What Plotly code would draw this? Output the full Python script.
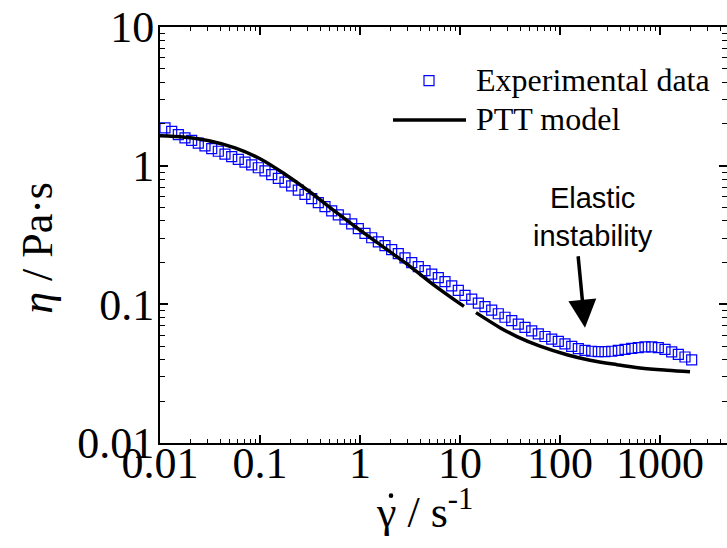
import plotly.graph_objects as go

# ---------------- data ----------------
shear_rate_exp = [0.01122, 0.01309, 0.01525, 0.01778, 0.02073, 0.02415, 0.02818, 0.03289, 0.03828, 0.04467,
                  0.05212, 0.06067, 0.07079, 0.08260, 0.09616, 0.1122, 0.1309, 0.1525, 0.1778, 0.2073,
                  0.2415, 0.2818, 0.3289, 0.3828, 0.4467, 0.5212, 0.6067, 0.7079, 0.8260, 0.9616,
                  1.122, 1.309, 1.525, 1.778, 2.073, 2.415, 2.818, 3.289, 3.828, 4.467,
                  5.212, 6.067, 7.079, 8.260, 9.616, 11.22, 13.09, 15.25, 17.78, 20.73,
                  24.15, 28.18, 32.89, 38.28, 44.67, 52.12, 60.67, 70.79, 82.60, 96.16,
                  112.2, 130.9, 152.5, 177.8, 207.3, 241.5, 281.8, 328.9, 382.8, 446.7,
                  521.2, 606.7, 707.9, 826.0, 961.6, 1122, 1309, 1525, 1778, 2073]
viscosity_exp = [1.871, 1.770, 1.675, 1.589, 1.521, 1.455, 1.387, 1.327, 1.271, 1.213,
                 1.161, 1.109, 1.059, 1.012, 0.966, 0.916, 0.861, 0.811, 0.762, 0.715,
                 0.667, 0.621, 0.578, 0.541, 0.506, 0.472, 0.442, 0.411, 0.380, 0.352,
                 0.325, 0.302, 0.282, 0.265, 0.248, 0.232, 0.216, 0.200, 0.187, 0.175,
                 0.165, 0.156, 0.146, 0.136, 0.126, 0.116, 0.109, 0.102, 0.0964, 0.0908,
                 0.0855, 0.0807, 0.0762, 0.0721, 0.0681, 0.0643, 0.0612, 0.0586, 0.0562, 0.0540,
                 0.0518, 0.0497, 0.0479, 0.0466, 0.0459, 0.0456, 0.0456, 0.0459, 0.0466, 0.0473,
                 0.0481, 0.0488, 0.0493, 0.0494, 0.0488, 0.0473, 0.0454, 0.0435, 0.0417, 0.0398]

# PTT model (two branches with a small gap around 12 s^-1)
shear_rate_ptt_low = [0.0100, 0.01778, 0.03162, 0.05623, 0.1000, 0.1778, 0.3162, 0.5623,
                      1.000, 1.778, 3.162, 5.623, 10.96]
viscosity_ptt_low = [1.641, 1.600, 1.507, 1.343, 1.122, 0.867, 0.646, 0.468,
                     0.343, 0.254, 0.188, 0.136, 0.0966]
shear_rate_ptt_high = [14.45, 25.12, 37.15, 63.10, 117.5, 199.5, 371.5, 631.0, 1175, 1995]
viscosity_ptt_high = [0.0871, 0.0679, 0.0585, 0.0499, 0.0433, 0.0395, 0.0367, 0.0348, 0.0335, 0.0327]

x_major = [0.01, 0.1, 1, 10, 100, 1000]
x_major_text = ["0.01", "0.1", "1", "10", "100", "1000"]
y_major = [0.01, 0.1, 1, 10]
y_major_text = ["0.01", "0.1", "1", "10"]
x_minor = [m * d for d in [0.01, 0.1, 1, 10, 100, 1000] for m in range(2, 10)]
y_minor = [m * d for d in [0.01, 0.1, 1] for m in range(2, 10)]

SERIF = "Liberation Serif, Times New Roman, serif"
SANS = "Liberation Sans, Arial, sans-serif"

fig = go.Figure()
fig.add_trace(go.Scatter(
    x=shear_rate_exp, y=viscosity_exp, mode="markers", name="Experimental data",
    marker=dict(symbol="square-open", size=10, color="#0000ff", line=dict(width=1.2, color="#0000ff")),
    showlegend=False))
fig.add_trace(go.Scatter(
    x=shear_rate_ptt_low, y=viscosity_ptt_low, mode="lines", name="PTT model",
    line=dict(color="black", width=3.5, shape="spline"), showlegend=False))
fig.add_trace(go.Scatter(
    x=shear_rate_ptt_high, y=viscosity_ptt_high, mode="lines", name="PTT model",
    line=dict(color="black", width=3.5, shape="spline"), showlegend=False))

axis_common = dict(
    type="log", showline=True, linecolor="black", linewidth=2, mirror="allticks",
    ticks="inside", ticklen=8, tickwidth=1.5, tickcolor="black",
    showgrid=False, zeroline=False, automargin=False,
    tickfont=dict(family=SERIF, size=44, color="black"),
    tickmode="array",
)
fig.update_xaxes(**axis_common, range=[-2, 3.67], tickvals=x_major, ticktext=x_major_text,
                 ticklabelstandoff=-20,
                 minor=dict(tickmode="array", tickvals=x_minor, ticks="inside", ticklen=4,
                            tickwidth=1.2, tickcolor="black", showgrid=False))
fig.update_yaxes(**axis_common, range=[-2, 1], tickvals=y_major, ticktext=y_major_text,
                 ticklabelstandoff=-5,
                 minor=dict(tickmode="array", tickvals=y_minor, ticks="inside", ticklen=5,
                            tickwidth=1.2, tickcolor="black", showgrid=False))

L, T, W, H = 160, 27, 567, 416.3
def px(xp):
    return (xp - L) / W
def py(yp):
    return (T + H - yp) / H

annotations = [
    dict(text="<i>η</i> / Pa·s", x=px(38), y=py(248), xref="paper", yref="paper",
         textangle=-90, showarrow=False, xanchor="center", yanchor="middle",
         font=dict(family=SERIF, size=44, color="black")),
    dict(text="γ / s<sup>-1</sup>", x=px(424), y=py(510), xref="paper", yref="paper",
         showarrow=False, xanchor="center", yanchor="middle",
         font=dict(family=SERIF, size=44, color="black")),
    dict(text="Experimental data", x=px(474), y=py(80), xref="paper", yref="paper",
         showarrow=False, xanchor="left", yanchor="middle",
         font=dict(family=SERIF, size=32, color="black")),
    dict(text="PTT model", x=px(474), y=py(119.5), xref="paper", yref="paper",
         showarrow=False, xanchor="left", yanchor="middle",
         font=dict(family=SERIF, size=32, color="black")),
    dict(text="Elastic<br>instability", x=px(593), y=py(217), xref="paper", yref="paper",
         showarrow=False, xanchor="center", yanchor="middle", align="center",
         font=dict(family=SANS, size=29, color="black")),
    dict(text="", x=px(585), y=py(328), xref="paper", yref="paper",
         showarrow=True, ax=-7, ay=-73, arrowhead=2, arrowsize=1.6, arrowwidth=3.5,
         arrowcolor="black"),
]

shapes = [
    dict(type="line", xref="paper", yref="paper", x0=px(393), x1=px(466), y0=py(120), y1=py(120),
         line=dict(color="black", width=3.5)),
    dict(type="rect", xref="paper", yref="paper", xsizemode="pixel", ysizemode="pixel",
         xanchor=px(429), yanchor=py(80.7), x0=-5, x1=5, y0=-5, y1=5,
         line=dict(color="#0000ff", width=1.2), fillcolor="rgba(0,0,0,0)"),
    # dot of gamma-dot in the x-axis title
    dict(type="circle", xref="paper", yref="paper", xsizemode="pixel", ysizemode="pixel",
         xanchor=px(391), yanchor=py(496), x0=-2.3, x1=2.3, y0=-2.3, y1=2.3,
         line=dict(color="black", width=0), fillcolor="black"),
]

fig.update_layout(
    width=727, height=548,
    margin=dict(l=160, r=0, t=27, b=105),
    paper_bgcolor="white", plot_bgcolor="white",
    showlegend=False,
    annotations=annotations, shapes=shapes,
)

fig.write_html("out.html", config={"displayModeBar": False},
               post_script="document.body.style.margin='0';document.body.style.padding='0';"
                           "document.body.style.overflow='hidden';")
